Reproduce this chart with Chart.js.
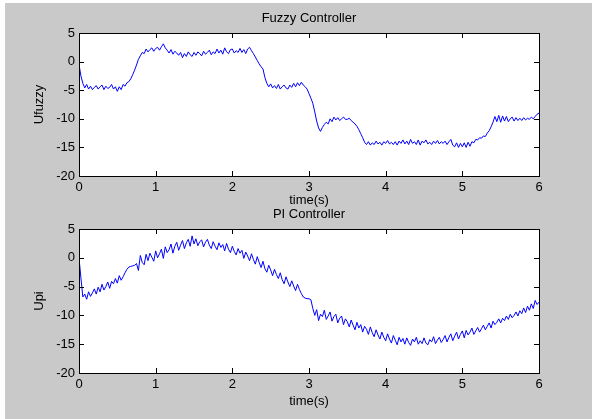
<!DOCTYPE html>
<html>
<head>
<meta charset="utf-8">
<script src="https://cdn.jsdelivr.net/npm/chart.js@4/dist/chart.umd.min.js"></script>
<style>
  html, body { margin: 0; padding: 0; background: #ffffff; }
  #wrap { position: relative; width: 592px; height: 419px; overflow: hidden; }
  #bg { position: absolute; left: 5px; top: 3px; width: 587px; height: 416px; background: #c9c9c9; }
  canvas { position: absolute; left: 0; top: 0; }
</style>
</head>
<body>
<div id="wrap">
  <div id="bg"></div>
  <canvas id="c1" width="592" height="419"></canvas>
  <canvas id="c2" width="592" height="419"></canvas>
</div>
<script>
// ---- data ----
const sampleStep = 0.025;           // seconds between samples, t = 0 .. 6
const xTickLabels = ['0', '1', '2', '3', '4', '5', '6'];
const yTickLabels = ['-20', '-15', '-10', '-5', '0', '5'];
const titles = ['Fuzzy Controller', 'PI Controller'];
const yLabels = ['Ufuzzy', 'Upi'];
const xLabel = 'time(s)';

const uFuzzy = [
  -0.5, -2.5, -3.8, -4.6, -4.0, -4.8, -4.3, -4.9, -4.5, -4.2,
  -4.8, -4.4, -4.1, -4.9, -4.3, -4.7, -4.5, -4.0, -4.8, -4.4,
  -5.2, -4.4, -4.9, -4.0, -4.3, -3.7, -3.5, -3.0, -2.3, -1.5,
  -0.6, 0.4, 1.0, 1.6, 1.4, 2.2, 1.7, 2.1, 2.4, 1.8,
  2.3, 2.5, 2.0, 2.6, 3.1, 2.4, 2.0, 1.5, 2.1, 1.3,
  1.8, 1.5, 1.1, 1.6, 0.7, 1.4, 0.9, 1.7, 1.2, 0.9,
  1.6, 1.1, 1.7, 1.4, 1.0, 1.8, 1.3, 1.6, 2.0, 1.2,
  1.7, 1.4, 2.2, 1.5, 2.0, 1.3, 2.4, 1.7, 1.4, 2.1,
  2.2, 1.5, 1.9, 1.6, 2.3, 1.6, 2.1, 1.4, 2.2, 2.5,
  1.9, 1.4, 0.8, 0.2, -0.4, -0.9, -1.3, -2.8, -3.8, -4.4,
  -3.9, -4.6, -4.2, -4.7, -4.0, -4.8, -4.4, -4.1, -4.6, -4.8,
  -4.1, -4.5, -3.8, -4.4, -3.7, -4.2, -3.6, -4.1, -4.4, -4.8,
  -5.6, -6.4, -7.3, -8.8, -10.4, -11.6, -12.2, -11.5, -11.0, -10.6,
  -10.9, -10.0, -10.5, -9.7, -10.2, -9.8, -10.3, -10.0, -9.7, -10.1,
  -10.1, -9.9, -10.3, -10.6, -10.9, -11.3, -11.9, -12.6, -13.3, -14.1,
  -14.5, -14.0, -14.6, -14.2, -14.5, -13.9, -14.4, -14.1, -14.6, -14.0,
  -14.3, -13.8, -14.4, -14.1, -14.5, -14.0, -14.6, -13.9, -14.3, -13.7,
  -14.4, -13.9, -14.5, -13.6, -14.3, -14.0, -14.5, -13.7, -14.6, -13.9,
  -14.2, -13.7, -14.4, -14.1, -14.5, -13.9, -14.3, -13.8, -14.4, -14.0,
  -14.3, -13.9, -14.5, -14.0, -13.6, -14.6, -14.9, -14.2, -15.0, -14.3,
  -14.9, -14.2, -15.0, -14.1, -14.8, -14.0, -14.2, -13.6, -13.7, -13.3,
  -13.4, -13.0, -13.1, -12.5, -12.1, -11.4, -10.6, -9.6, -10.5, -9.4,
  -10.6, -9.5, -10.4, -9.6, -10.5, -10.0, -9.7, -10.4, -9.8, -10.3,
  -9.9, -10.3, -9.8, -10.2, -9.9, -10.1, -9.7, -10.0, -9.6, -9.2, -9.0
];

const uPI = [
  0.0, -3.5, -6.8, -6.3, -7.2, -5.9, -6.7, -6.1, -5.4, -6.3,
  -5.1, -5.9, -4.6, -5.6, -5.0, -4.2, -5.3, -4.1, -4.5, -3.6,
  -4.4, -3.1, -3.9, -3.3, -2.6, -2.0, -1.6, -1.5, -1.4, -1.3,
  -1.0, -2.2, 0.4, -0.8, -1.2, 0.6, -0.5, 0.8, 0.1, -0.6,
  1.2, 0.0, 0.7, 1.5, -0.1, 1.9, 0.9, 1.4, 2.4, 0.8,
  2.0, 2.7, 1.3, 2.2, 3.0, 1.6, 2.6, 3.2, 2.0, 3.8,
  2.4, 3.3, 2.1, 2.8, 3.1, 1.9, 2.7, 3.2, 2.2, 1.6,
  2.8, 2.0, 1.4, 2.6, 1.8, 2.3, 1.2, 2.5, 1.5, 0.9,
  2.0, 1.1, 0.5, 1.6, 0.8, 1.3, -0.1, 1.0, 0.3, -0.5,
  0.7, -0.3, -1.1, 0.2, -0.8, -1.7, -0.6, -1.9, -2.5, -1.3,
  -2.1, -3.1, -2.0, -2.9, -3.6, -2.6, -3.8, -4.5, -3.3, -4.2,
  -5.0, -4.0, -4.9, -5.7, -4.6, -5.5, -6.2, -6.8, -7.0, -7.1,
  -7.1, -7.3, -8.8, -10.0, -9.0, -10.9, -9.8, -10.2, -9.1, -10.7,
  -10.1, -9.4, -11.0, -10.2, -9.8, -11.3, -10.5, -10.1, -11.6, -10.6,
  -11.1, -12.0, -10.8, -11.7, -12.5, -11.2, -12.2, -11.6, -12.9, -11.9,
  -12.4, -13.3, -12.0, -13.0, -13.7, -12.5, -13.4, -14.1, -12.9, -13.8,
  -14.4, -13.2, -14.1, -14.8, -13.5, -14.3, -15.1, -13.8, -14.6, -14.0,
  -15.0, -13.9, -14.7, -15.2, -14.1, -14.6, -13.8, -15.0, -14.4, -14.9,
  -13.9, -14.8, -15.1, -14.2, -14.6, -13.7, -14.9, -14.3, -13.8, -14.7,
  -14.2, -13.5, -14.6, -13.8, -13.2, -14.4, -13.6, -12.9, -14.1, -13.3,
  -12.7, -13.9, -12.6, -13.4, -12.9, -12.2, -13.3, -12.7, -12.1, -12.9,
  -12.3, -11.7, -12.5, -11.9, -11.3, -12.2, -11.0, -11.6, -11.2, -10.6,
  -11.3, -10.5, -10.9, -10.1, -10.7, -9.8, -10.4, -10.0, -9.4, -10.1,
  -9.2, -9.7, -8.7, -9.5, -8.4, -9.1, -8.0, -8.8, -7.4, -8.1, -7.7
];

// ---- rendering ----
const FONT = '"Liberation Sans", Arial, sans-serif';
const FSIZE = 13;

function toPoints(vals) {
  return vals.map((v, i) => ({ x: i * sampleStep, y: v }));
}

function makeBoxPlugin(titleText, titleY) {
  return {
    id: 'matlabBox',
    beforeDraw(chart) {
      const a = chart.chartArea, ctx = chart.ctx;
      ctx.save();
      ctx.fillStyle = '#ffffff';
      ctx.fillRect(a.left, a.top, a.right - a.left, a.bottom - a.top);
      ctx.restore();
    },
    afterDraw(chart) {
      const a = chart.chartArea, ctx = chart.ctx;
      const xs = chart.scales.x, ys = chart.scales.y;
      const L = 5;
      ctx.save();
      ctx.strokeStyle = '#000000';
      ctx.lineWidth = 1;
      ctx.beginPath();
      xs.ticks.forEach(t => {
        const px = Math.round(xs.getPixelForValue(t.value)) + 0.5;
        ctx.moveTo(px, a.bottom); ctx.lineTo(px, a.bottom - L);
        ctx.moveTo(px, a.top); ctx.lineTo(px, a.top + L);
      });
      ys.ticks.forEach(t => {
        const py = Math.round(ys.getPixelForValue(t.value)) + 0.5;
        ctx.moveTo(a.left, py); ctx.lineTo(a.left + L, py);
        ctx.moveTo(a.right, py); ctx.lineTo(a.right - L, py);
      });
      ctx.stroke();
      ctx.strokeRect(Math.round(a.left) + 0.5, Math.round(a.top) + 0.5,
                     Math.round(a.right - a.left), Math.round(a.bottom - a.top));
      // axes title, centred over the plot box (MATLAB style)
      ctx.fillStyle = '#000000';
      ctx.font = FSIZE + 'px ' + FONT;
      ctx.textAlign = 'center';
      ctx.textBaseline = 'middle';
      ctx.fillText(titleText, (a.left + a.right) / 2, titleY);
      ctx.restore();
    }
  };
}

function makeChart(id, vals, title, titleY, ylab, pad, xAxisH) {
  return new Chart(document.getElementById(id), {
    type: 'line',
    data: {
      datasets: [{
        data: toPoints(vals),
        borderColor: '#0000ff',
        borderWidth: 1,
        pointRadius: 0,
        tension: 0,
        fill: false
      }]
    },
    options: {
      responsive: false,
      animation: false,
      events: [],
      layout: { padding: pad },
      plugins: {
        legend: { display: false },
        tooltip: { enabled: false },
        title: { display: false }
      },
      scales: {
        x: {
          type: 'linear',
          min: 0, max: 6,
          grid: { display: false, drawTicks: false },
          border: { display: false },
          ticks: {
            stepSize: 1,
            padding: 4,
            color: '#000000',
            font: { family: FONT, size: FSIZE },
            callback: (v) => xTickLabels[Math.round(v)] ?? ''
          },
          title: {
            display: true, text: xLabel, color: '#000000',
            font: { family: FONT, size: FSIZE },
            padding: { top: 0, bottom: 0 }
          },
          afterFit: (s) => { s.height = xAxisH; }
        },
        y: {
          type: 'linear',
          min: -20, max: 5,
          grid: { display: false, drawTicks: false },
          border: { display: false },
          ticks: {
            stepSize: 5,
            padding: 4,
            color: '#000000',
            font: { family: FONT, size: FSIZE },
            callback: (v) => yTickLabels[Math.round((v + 20) / 5)] ?? ''
          },
          title: {
            display: true, text: ylab, color: '#000000',
            font: { family: FONT, size: FSIZE },
            padding: { top: 6.2, bottom: 0 }
          },
          afterFit: (s) => { s.width = 54; }
        }
      }
    },
    plugins: [makeBoxPlugin(title, titleY)]
  });
}

makeChart('c1', uFuzzy, titles[0], 18, yLabels[0],
  { top: 33, left: 25, right: 53, bottom: 211.2 }, 31.8);
makeChart('c2', uPI, titles[1], 214, yLabels[1],
  { top: 229, left: 25, right: 53, bottom: 9.7 }, 36.3);
</script>
</body>
</html>
